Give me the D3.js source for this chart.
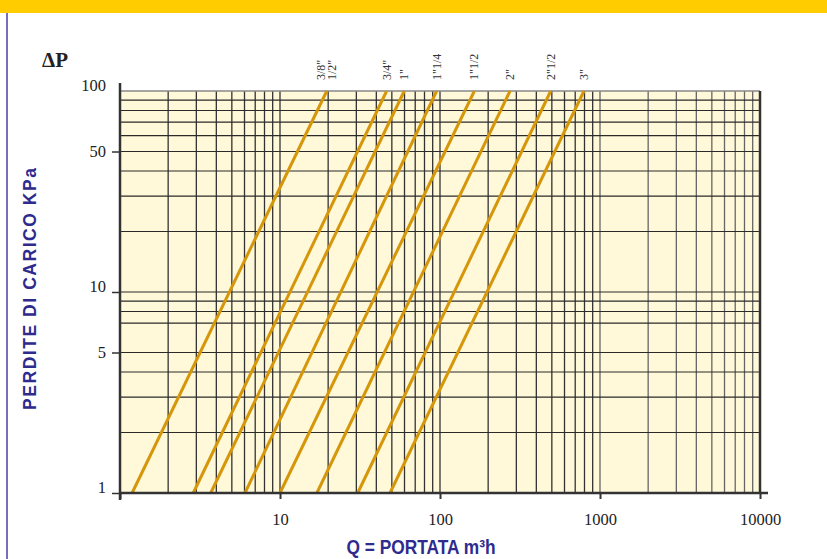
<!DOCTYPE html>
<html>
<head>
<meta charset="utf-8">
<script src="https://cdn.jsdelivr.net/npm/d3@7"></script>
<style>
  body { margin: 0; background: #fff; }
  svg { display: block; }
</style>
</head>
<body>
<svg id="chart" width="827" height="559"></svg>
<script>
// flow Q (m3/h) where each pipe line crosses dP = 1 and dP = 100 kPa
var qAt1   = [1.19, 2.87, 3.69, 6.04, 10.0, 17.0, 30.6, 48.7];
var qAt100 = [19.6, 46.4, 59.8, 95.3, 164, 274, 492, 794];
// pipe size labels and the line each one belongs to
var pipeSizes = ['3/8"', '1/2"', '3/4"', '1"', '1"1/4', '1"1/2', '2"', '2"1/2', '3"'];
var sizeLine  = [0, 0, 1, 2, 3, 4, 5, 6, 7];
var xTicks = [10, 100, 1000, 10000];
var yTicks = [1, 5, 10, 50, 100];
var yGrid = [2, 3, 4, 5, 7, 8, 9, 10, 20, 30, 40, 50, 60, 70, 80, 90];

var svg = d3.select('#chart');
var serif = '"Liberation Serif", "Times New Roman", serif';
var sans = '"Liberation Sans", Arial, sans-serif';
var blue = '#2e2a8e';

var x = d3.scaleLog().domain([1, 10000]).range([120, 760]);
var y = d3.scaleLog().domain([1, 100]).range([493, 91]);

// top banner and left rule
svg.append('rect').attr('x', 0).attr('y', 0).attr('width', 827).attr('height', 13)
  .attr('fill', '#ffcc00');
svg.append('line').attr('x1', 7).attr('x2', 7).attr('y1', 13).attr('y2', 559)
  .attr('stroke', '#4a3fa3').attr('stroke-width', 1.5);

// plot background
svg.append('rect')
  .attr('x', x(1)).attr('y', y(100))
  .attr('width', x(10000) - x(1)).attr('height', y(1) - y(100))
  .attr('fill', '#fff8d9');

// vertical grid: 2..10 in every decade
var xGrid = [];
[1, 10, 100, 1000].forEach(function (d) {
  for (var m = 2; m <= 10; m++) xGrid.push(m * d);
});
xGrid = xGrid.filter(function (d) { return d < 10000; });

svg.append('g').selectAll('line')
  .data(xGrid)
  .enter()
  .append('line')
  .attr('x1', function (d) { return x(d); })
  .attr('x2', function (d) { return x(d); })
  .attr('y1', y(100)).attr('y2', y(1))
  .attr('stroke', function (d) { return d < 1000 ? '#333' : '#666'; })
  .attr('stroke-width', 1.3);

svg.append('g').selectAll('line')
  .data(yGrid)
  .enter()
  .append('line')
  .attr('x1', x(1)).attr('x2', x(10000))
  .attr('y1', function (d) { return y(d); })
  .attr('y2', function (d) { return y(d); })
  .attr('stroke', '#2a2a2a')
  .attr('stroke-width', 1.2);

// top and right frame
svg.append('line').attr('x1', x(1)).attr('x2', x(10000)).attr('y1', y(100)).attr('y2', y(100))
  .attr('stroke', '#888').attr('stroke-width', 1.5);
svg.append('line').attr('x1', x(10000)).attr('x2', x(10000)).attr('y1', y(100)).attr('y2', y(1))
  .attr('stroke', '#333').attr('stroke-width', 2.5);

// pipe lines
var line = d3.line()
  .x(function (d) { return x(d[0]); })
  .y(function (d) { return y(d[1]); });

svg.append('g').selectAll('path')
  .data(qAt1.map(function (q, i) { return [[q, 1], [qAt100[i], 100]]; }))
  .enter()
  .append('path')
  .attr('d', line)
  .attr('fill', 'none')
  .attr('stroke', '#d6960a')
  .attr('stroke-width', 3);

// pipe size labels, rotated, above the line tops
svg.append('g').selectAll('text')
  .data(pipeSizes)
  .enter()
  .append('text')
  .attr('transform', function (d, i) {
    var li = sizeLine[i];
    var shared = sizeLine.filter(function (s) { return s === li; }).length;
    var pos = sizeLine.indexOf(li);
    var off = shared > 1 ? ((i - pos) - (shared - 1) / 2) * 11 : 0;
    var cx = x(qAt100[li]) + off + 4;
    return 'translate(' + cx + ',80) rotate(-90)';
  })
  .attr('font-family', serif)
  .attr('font-size', 12)
  .attr('fill', '#333')
  .text(function (d) { return d; });

// x axis
var xAxis = d3.axisBottom(x)
  .tickValues([1].concat(xTicks))
  .tickFormat(function (d) { return d === 1 ? '' : d3.format('d')(d); })
  .tickSize(6)
  .tickSizeOuter(0);
var gx = svg.append('g').attr('transform', 'translate(0,' + y(1) + ')').call(xAxis);
gx.select('.domain').remove();
gx.selectAll('line').attr('stroke', '#333').attr('stroke-width', 2);
gx.selectAll('text')
  .attr('font-family', serif).attr('font-size', 16.5).attr('fill', '#222')
  .attr('y', 0).attr('dy', 0)
  .attr('transform', 'translate(0,32)');
svg.append('line').attr('x1', x(1)).attr('x2', x(10000) + 8).attr('y1', y(1)).attr('y2', y(1))
  .attr('stroke', '#333').attr('stroke-width', 2.5);

// y axis
var yAxis = d3.axisLeft(y)
  .tickValues(yTicks)
  .tickFormat(d3.format('d'))
  .tickSize(8)
  .tickSizeOuter(0);
var gy = svg.append('g').attr('transform', 'translate(' + x(1) + ',0)').call(yAxis);
gy.select('.domain').remove();
gy.selectAll('.tick line')
  .attr('stroke', '#333').attr('stroke-width', 1.5)
  .attr('display', function (d) { return d === 100 ? 'none' : null; });
gy.selectAll('text')
  .attr('font-family', serif).attr('font-size', 16.5).attr('fill', '#222')
  .attr('x', -14)
  .attr('dy', function (d) { return Math.log10(d) % 1 === 0 ? '-0.05em' : '0.3em'; });
svg.append('line').attr('x1', x(1)).attr('x2', x(1)).attr('y1', y(100) - 8).attr('y2', y(1) + 7)
  .attr('stroke', '#333').attr('stroke-width', 2.5);

// titles
svg.append('text')
  .attr('x', 42).attr('y', 67)
  .attr('font-family', serif).attr('font-weight', 'bold').attr('font-size', 21)
  .attr('fill', '#222')
  .text('ΔP');

svg.append('text')
  .attr('transform', 'translate(36,289) rotate(-90)')
  .attr('text-anchor', 'middle')
  .attr('font-family', sans).attr('font-weight', 'bold').attr('font-size', 17.5)
  .attr('textLength', 242).attr('lengthAdjust', 'spacing')
  .attr('fill', blue)
  .text('PERDITE DI CARICO KPa');

svg.append('text')
  .attr('x', 421).attr('y', 554)
  .attr('text-anchor', 'middle')
  .attr('font-family', sans).attr('font-weight', 'bold').attr('font-size', 19.5)
  .attr('textLength', 149).attr('lengthAdjust', 'spacingAndGlyphs')
  .attr('fill', blue)
  .text('Q = PORTATA m³h');
</script>
</body>
</html>
